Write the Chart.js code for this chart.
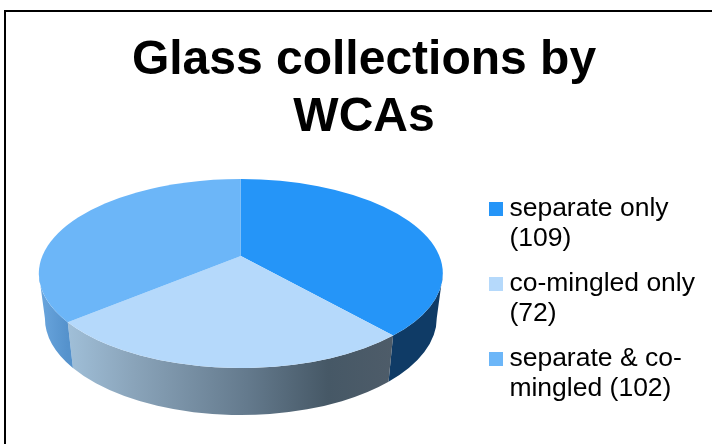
<!DOCTYPE html>
<html>
<head>
<meta charset="utf-8">
<script src="https://cdn.jsdelivr.net/npm/chart.js@4"></script>
<style>
html,body{margin:0;padding:0;background:#fff;overflow:hidden;width:712px;height:444px}
#frame{position:absolute;left:0;top:0;width:712px;height:444px;overflow:hidden;background:#fff}
#bt{position:absolute;left:4px;top:10px;width:708px;height:2px;background:#000}
#bl{position:absolute;left:4px;top:10px;width:2px;height:434px;background:#000}
#wrap{position:absolute;left:0;top:0;width:728px;height:444px}
</style>
</head>
<body>
<div id="frame">
<div id="wrap"><canvas id="c" width="728" height="444"></canvas></div>
<div id="bt"></div><div id="bl"></div>
</div>
<script>
const titleLines = ["Glass collections by", "WCAs"];
const categories = [["separate only", "(109)"], ["co-mingled only", "(72)"], ["separate & co-", "mingled (102)"]];
const collections = [109, 72, 102];
const sliceColors = ["#2595f8", "#b5d9fb", "#6cb6f8"];
const wallStops = [
  [[0, "#0f3b66"], [1, "#0f3b66"]],
  [[0, "#a0bfd8"], [0.2, "#8aa4ba"], [0.55, "#647a8d"], [0.8, "#465866"], [1, "#4e5c69"]],
  [[0, "#6aa6de"], [1, "#5592cc"]]
];

// view of the disc
const squash = 0.468, lean = -0.185, depthDy = 44.5, bottomScale = 0.97;
const discDx = -11, discDy = -31.75;

function project(a) {
  // a: chart.js angle (0 = 3 o'clock, clockwise) -> parameter on the rim ellipse
  const ux = Math.cos(a), uy = Math.sin(a);
  const d = 1 + lean * uy;
  return Math.atan2((uy + lean) / d, ux * Math.sqrt(1 - lean * lean) / d);
}

const pie3d = {
  id: "pie3d",
  beforeDatasetDraw(chart, args) {
    const ctx = chart.ctx;
    const arcs = chart.getDatasetMeta(args.index).data;
    const a0 = arcs[0], cx = a0.x + discDx, cy = a0.y + discDy, rx = a0.outerRadius, ry = rx * squash;
    const bx = rx * bottomScale, by = ry * 1.027, byc = cy + depthDy;
    ctx.save();
    // side wall: only the front half of the rim is visible
    arcs.forEach((arc, i) => {
      let s = project(arc.startAngle), e = project(arc.endAngle);
      while (e < s) e += Math.PI * 2;
      const vs = Math.max(s, 0), ve = Math.min(e, Math.PI);
      if (ve <= vs) return;
      ctx.beginPath();
      ctx.ellipse(cx, cy, rx, ry, 0, vs, ve);
      ctx.ellipse(cx, byc, bx, by, 0, ve, vs, true);
      ctx.closePath();
      const xL = cx + rx * Math.cos(ve), xR = cx + rx * Math.cos(vs);
      const g = ctx.createLinearGradient(xL, 0, xR, 0);
      wallStops[i].forEach(st => g.addColorStop(st[0], st[1]));
      ctx.fillStyle = g;
      ctx.fill();
    });
    // top face: slices meet at the foreshortened centre
    const apexY = cy + lean * ry;
    arcs.forEach((arc, i) => {
      let s = project(arc.startAngle), e = project(arc.endAngle);
      while (e < s) e += Math.PI * 2;
      ctx.beginPath();
      ctx.moveTo(cx, apexY);
      ctx.ellipse(cx, cy, rx, ry, 0, s, e);
      ctx.closePath();
      ctx.fillStyle = arc.options.backgroundColor;
      ctx.fill();
    });
    ctx.restore();
    return false;
  }
};

function swatch(color) {
  const s = document.createElement("canvas");
  s.width = 14; s.height = 14;
  const x = s.getContext("2d");
  x.fillStyle = color; x.fillRect(0, 0, 14, 14);
  return s;
}
const swatches = sliceColors.map(swatch);

new Chart(document.getElementById("c"), {
  type: "pie",
  plugins: [pie3d],
  data: {
    labels: categories,
    datasets: [{ data: collections, backgroundColor: sliceColors, borderWidth: 0 }]
  },
  options: {
    responsive: false,
    animation: false,
    radius: 202,
    layout: { padding: { left: 23, right: 23, top: 0, bottom: 14 } },
    plugins: {
      tooltip: { enabled: false },
      title: {
        display: true,
        text: titleLines,
        color: "#000",
        font: { family: "'Liberation Sans', Arial, sans-serif", size: 48, weight: "bold", lineHeight: "57px" },
        padding: { top: 32, bottom: 34.5 }
      },
      legend: {
        position: "right",
        align: "start",
        fullSize: false,
        labels: {
          color: "#000",
          font: { family: "'Liberation Sans', Arial, sans-serif", size: 26.5, lineHeight: "30px" },
          boxWidth: 0.5,
          boxHeight: 14,
          padding: 15,
          usePointStyle: true,
          generateLabels(chart) {
            return Chart.controllers.pie.overrides.plugins.legend.labels.generateLabels(chart)
              .map((it, i) => Object.assign(it, { pointStyle: swatches[i], lineWidth: 0 }));
          }
        }
      }
    }
  }
});
</script>
</body>
</html>
